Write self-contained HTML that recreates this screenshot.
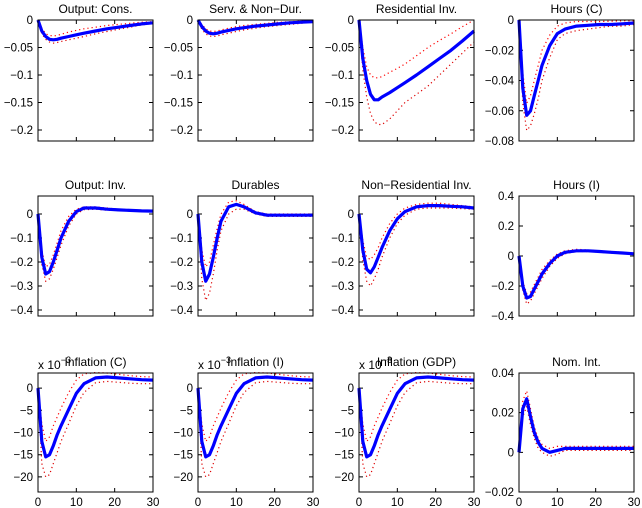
<!DOCTYPE html>
<html><head><meta charset="utf-8"><style>
html,body{margin:0;padding:0;background:#fff}
svg{display:block;font-family:"Liberation Sans",sans-serif}
</style></head><body>
<svg id="c" width="642" height="508"></svg>
<script>
const T=[0,1,2,3,4,5,6,8,10,12,15,18,21,24,27,30];
const titles=["Output: Cons.","Serv. & Non−Dur.","Residential Inv.","Hours (C)","Output: Inv.","Durables","Non−Residential Inv.","Hours (I)","Inflation (C)","Inflation (I)","Inflation (GDP)","Nom. Int."];
const m1=[0,-0.02,-0.03,-0.035,-0.036,-0.035,-0.033,-0.03,-0.027,-0.024,-0.02,-0.016,-0.013,-0.01,-0.007,-0.005];
const h1=[0,-0.015,-0.025,-0.028,-0.029,-0.028,-0.026,-0.022,-0.019,-0.016,-0.013,-0.01,-0.008,-0.006,-0.004,-0.003];
const l1=[0,-0.025,-0.035,-0.04,-0.042,-0.041,-0.039,-0.036,-0.033,-0.03,-0.025,-0.021,-0.017,-0.013,-0.009,-0.006];
const m2=[0,-0.012,-0.02,-0.024,-0.025,-0.024,-0.022,-0.019,-0.016,-0.014,-0.011,-0.009,-0.007,-0.005,-0.004,-0.003];
const h2=[0,-0.008,-0.016,-0.02,-0.021,-0.02,-0.018,-0.015,-0.012,-0.01,-0.008,-0.006,-0.004,-0.003,-0.002,-0.001];
const l2=[0,-0.017,-0.025,-0.029,-0.03,-0.029,-0.027,-0.024,-0.021,-0.018,-0.015,-0.012,-0.01,-0.008,-0.006,-0.004];
const m3=[0,-0.07,-0.11,-0.135,-0.145,-0.145,-0.14,-0.132,-0.123,-0.114,-0.1,-0.085,-0.07,-0.055,-0.038,-0.02];
const h3=[0,-0.05,-0.085,-0.1,-0.105,-0.105,-0.103,-0.095,-0.088,-0.08,-0.065,-0.05,-0.037,-0.025,-0.012,0];
const l3=[0,-0.09,-0.14,-0.17,-0.185,-0.19,-0.19,-0.18,-0.165,-0.15,-0.135,-0.12,-0.1,-0.08,-0.06,-0.04];
const m4=[0,-0.045,-0.063,-0.06,-0.05,-0.04,-0.03,-0.017,-0.009,-0.006,-0.004,-0.0035,-0.003,-0.003,-0.0025,-0.002];
const h4=[0,-0.035,-0.055,-0.05,-0.04,-0.03,-0.02,-0.01,-0.004,-0.002,-0.001,-0.001,-0.001,-0.0008,-0.0005,-0.0005];
const l4=[0,-0.055,-0.073,-0.07,-0.062,-0.052,-0.04,-0.025,-0.013,-0.009,-0.007,-0.006,-0.005,-0.004,-0.004,-0.003];
const m5=[0,-0.18,-0.25,-0.24,-0.2,-0.15,-0.1,-0.03,0.01,0.025,0.025,0.02,0.017,0.015,0.013,0.012];
const h5=[0,-0.15,-0.22,-0.21,-0.17,-0.12,-0.07,-0.01,0.02,0.03,0.03,0.025,0.02,0.018,0.016,0.015];
const l5=[0,-0.21,-0.28,-0.27,-0.23,-0.18,-0.13,-0.05,0.0,0.018,0.02,0.016,0.014,0.012,0.01,0.009];
const m6=[0,-0.2,-0.28,-0.25,-0.18,-0.1,-0.03,0.03,0.04,0.03,0.005,-0.005,-0.005,-0.005,-0.005,-0.005];
const h6=[0,-0.15,-0.22,-0.2,-0.13,-0.06,0.0,0.05,0.055,0.04,0.01,0.0,0.0,0.0,0.0,0.0];
const l6=[0,-0.27,-0.36,-0.33,-0.25,-0.15,-0.07,0.0,0.02,0.02,0.0,-0.01,-0.01,-0.01,-0.01,-0.01];
const m7=[0,-0.15,-0.23,-0.245,-0.22,-0.18,-0.14,-0.07,-0.02,0.01,0.03,0.035,0.035,0.032,0.03,0.025];
const h7=[0,-0.11,-0.18,-0.19,-0.17,-0.14,-0.1,-0.04,0.0,0.025,0.04,0.045,0.045,0.04,0.035,0.03];
const l7=[0,-0.19,-0.28,-0.3,-0.27,-0.23,-0.18,-0.1,-0.04,-0.005,0.02,0.025,0.025,0.025,0.022,0.02];
const m8=[0,-0.2,-0.28,-0.27,-0.22,-0.17,-0.12,-0.05,0.0,0.025,0.035,0.035,0.03,0.025,0.02,0.015];
const h8=[0,-0.17,-0.25,-0.24,-0.19,-0.14,-0.09,-0.03,0.015,0.035,0.045,0.04,0.035,0.03,0.025,0.02];
const l8=[0,-0.23,-0.32,-0.3,-0.25,-0.2,-0.15,-0.07,-0.015,0.015,0.03,0.03,0.025,0.02,0.015,0.01];
const m9=[0,-12,-15.5,-15,-13,-10.5,-8.5,-4.8,-1.2,1.0,2.3,2.5,2.3,2.1,1.9,1.8];
const h9=[0,-8,-12,-11,-8.5,-6.5,-4.5,-1,1.8,3.2,3.5,3.4,3.1,2.8,2.6,2.5];
const l9=[0,-17,-20,-19.5,-17,-14.5,-12,-8,-4,-1,1.2,1.5,1.3,1.1,1,1];
const m12=[0,0.022,0.027,0.018,0.01,0.005,0.002,0,0.001,0.002,0.002,0.002,0.002,0.002,0.002,0.002];
const h12=[0,0.026,0.031,0.022,0.013,0.007,0.004,0.002,0.003,0.003,0.003,0.003,0.003,0.003,0.003,0.003];
const l12=[0,0.018,0.023,0.014,0.007,0.002,0,-0.002,-0.001,0.001,0.001,0.001,0.001,0.001,0.001,0.001];
const series=[[m1,h1,l1],[m2,h2,l2],[m3,h3,l3],[m4,h4,l4],[m5,h5,l5],[m6,h6,l6],[m7,h7,l7],[m8,h8,l8],[m9,h9,l9],[m9,h9,l9],[m9,h9,l9],[m12,h12,l12]];
const yTicks1=[0,-0.05,-0.1,-0.15,-0.2], yTickLab1=["0","−0.05","−0.1","−0.15","−0.2"];
const yTicks4=[0,-0.02,-0.04,-0.06,-0.08], yTickLab4=["0","−0.02","−0.04","−0.06","−0.08"];
const yTicks5=[0,-0.1,-0.2,-0.3,-0.4], yTickLab5=["0","−0.1","−0.2","−0.3","−0.4"];
const yTicks8=[0.4,0.2,0,-0.2,-0.4], yTickLab8=["0.4","0.2","0","−0.2","−0.4"];
const yTicks9=[0,-5,-10,-15,-20], yTickLab9=["0","−5","−10","−15","−20"];
const yTicks12=[0.04,0.02,0,-0.02], yTickLab12=["0.04","0.02","0","−0.02"];
const xTicks=[0,10,20,30];
const cols=[38,198,359,519], W=115;
const rows=[[20,141],[196,316],[373,492]];
const yr=[[-0.22,0],[-0.22,0],[-0.22,0],[-0.08,0],[-0.425,0.075],[-0.425,0.075],[-0.425,0.075],[-0.4,0.4],[-23.4,3.4],[-23.4,3.4],[-23.4,3.4],[-0.02,0.04]];
const ticks=[[yTicks1,yTickLab1],[yTicks1,yTickLab1],[yTicks1,yTickLab1],[yTicks4,yTickLab4],[yTicks5,yTickLab5],[yTicks5,yTickLab5],[yTicks5,yTickLab5],[yTicks8,yTickLab8],[yTicks9,yTickLab9],[yTicks9,yTickLab9],[yTicks9,yTickLab9],[yTicks12,yTickLab12]];
const svg=document.getElementById('c');const NS="http://www.w3.org/2000/svg";
function mk(tag,attrs,parent){const e=document.createElementNS(NS,tag);for(const k in attrs)e.setAttribute(k,attrs[k]);parent.appendChild(e);return e;}
for(let p=0;p<12;p++){
  const r=Math.floor(p/4),c=p%4;const x0=cols[c],x1=x0+W,y0=rows[r][0],y1=rows[r][1];
  const g=mk('g',{},svg);
  
  
  const X=t=>x0+t/30*W;const Y=v=>y1-(v-yr[p][0])/(yr[p][1]-yr[p][0])*(y1-y0);
  const [yt,yl]=ticks[p];
  yt.forEach((v,i)=>{const y=Y(v);
    const tk=mk('path',{d:`M${x0},${y}h4M${x1},${y}h-4`,stroke:'#000','stroke-width':1},g);
    
    
    const tx=mk('text',{x:x0-5,y:y+4,'text-anchor':'end','font-size':11.5},g);tx.textContent=yl[i];
    
    
  });
  xTicks.forEach(v=>{const x=X(v);
    const tk=mk('path',{d:`M${x},${y1}v-4M${x},${y0}v4`,stroke:'#000','stroke-width':1},g);
    
    
    if(r===2){const tx=mk('text',{x:x,y:y1+14,'text-anchor':'middle','font-size':11.5},g);tx.textContent=v;
      
      }
  });
  const [m,h,l]=series[p];
  const pth=a=>a.map((v,i)=>(i?'L':'M')+X(T[i]).toFixed(1)+','+Y(v).toFixed(1)).join('');
  const hl=mk('path',{d:pth(h),fill:'none',stroke:'#f00','stroke-width':1.2,'stroke-dasharray':'1.2 3'},g);
  
  
  const ll=mk('path',{d:pth(l),fill:'none',stroke:'#d00','stroke-width':1.2,'stroke-dasharray':'1.2 3'},g);
  
  
  const ml=mk('path',{d:pth(m),fill:'none',stroke:'#00f','stroke-width':3.2,'stroke-linejoin':'round'},g);
  
  
  const bx=mk('rect',{x:x0,y:y0,width:W,height:y1-y0,fill:'none',stroke:'#000','stroke-width':1},g);
  
  
  const tt=mk('text',{x:(x0+x1)/2,y:y0-7,'text-anchor':'middle','font-size':12},g);tt.textContent=titles[p];
  
  
  if(r===2&&c<3){const ex=mk('text',{x:x0,y:y0-4,'font-size':12},g);ex.innerHTML='x 10<tspan dy="-6" font-size="9">−3</tspan>';
    
    }
}
</script>
</body></html>
